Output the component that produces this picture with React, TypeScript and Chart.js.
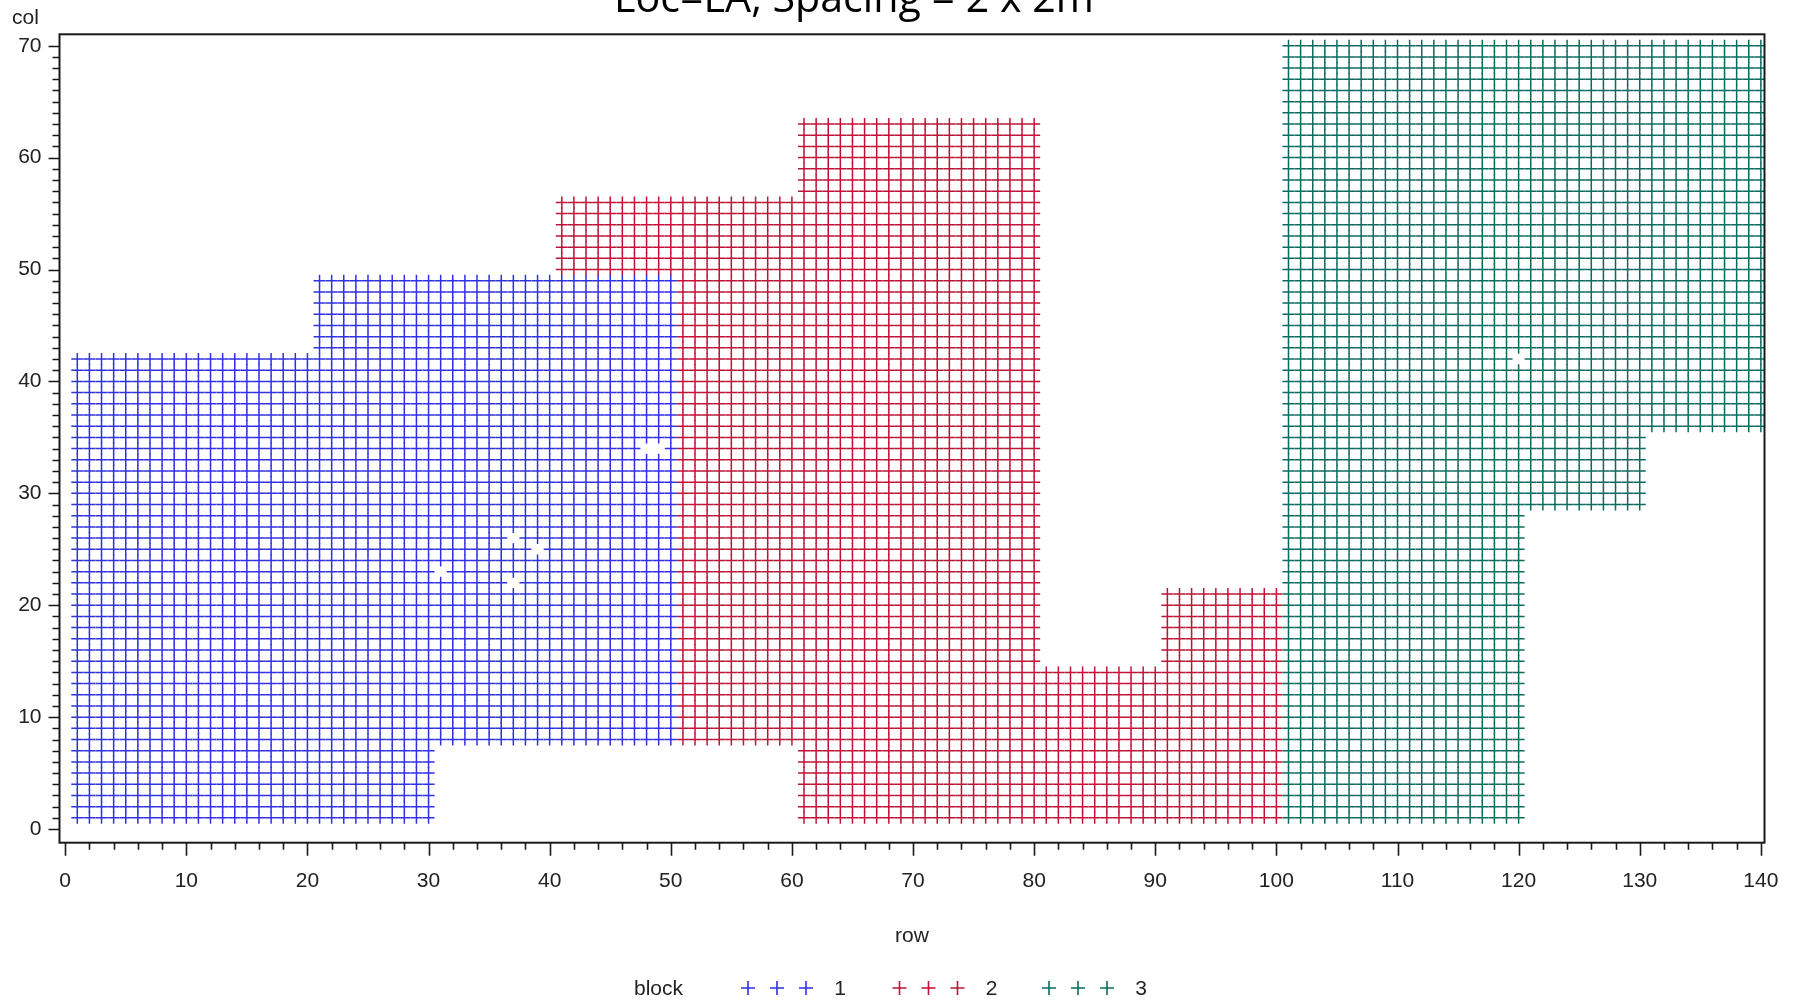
import React, { useEffect, useRef } from 'react';
import { Chart, registerables } from 'chart.js';

Chart.register(...registerables);

// ---------------- data ----------------
const TITLE = 'Loc=LA, Spacing = 2 x 2m';
const X_LABEL = 'row';
const Y_LABEL = 'col';
const LEGEND_TITLE = 'block';

const X_TICKS = [0, 10, 20, 30, 40, 50, 60, 70, 80, 90, 100, 110, 120, 130, 140];
const Y_TICKS = [0, 10, 20, 30, 40, 50, 60, 70];

const BLOCK_NAMES = ['1', '2', '3'];
const BLOCK_COLORS = ['#3030e4', '#c01236', '#0c6b5f'];

// rectangular plot regions of each block: [rowFrom, rowTo, colFrom, colTo]
const BLOCK1_REGIONS = [
  [1, 20, 1, 42],
  [21, 30, 1, 49],
  [31, 50, 8, 49],
];
const BLOCK2_REGIONS = [
  [41, 50, 50, 56],
  [51, 60, 8, 56],
  [61, 80, 1, 63],
  [81, 90, 1, 14],
  [91, 100, 1, 21],
];
const BLOCK3_REGIONS = [
  [101, 120, 1, 70],
  [121, 130, 29, 70],
  [131, 140, 36, 70],
];

// plots with no observation (row, col)
const MISSING_ROWS = [31, 37, 37, 39, 48, 49, 120];
const MISSING_COLS = [23, 22, 26, 25, 34, 34, 42];

// ---------------- helpers ----------------
function isMissing(r: number, c: number) {
  for (let i = 0; i < MISSING_ROWS.length; i++) {
    if (MISSING_ROWS[i] === r && MISSING_COLS[i] === c) return true;
  }
  return false;
}

function expand(regions: number[][]) {
  const pts: { x: number; y: number }[] = [];
  for (const [r0, r1, c0, c1] of regions) {
    for (let r = r0; r <= r1; r++) {
      for (let c = c0; c <= c1; c++) {
        if (!isMissing(r, c)) pts.push({ x: r, y: c });
      }
    }
  }
  return pts;
}

const W = 1793;
const H = 1005;
const AREA_LEFT = 59.5;
const AREA_RIGHT = 1764.5;
const AREA_TOP = 34.3;
const AREA_BOTTOM = 842.7;

const TICK_FONT = '"Liberation Sans", Arial, sans-serif';

const decorPlugin = {
  id: 'decor',
  afterDraw(chart: any) {
    const { ctx, chartArea } = chart;
    const xs = chart.scales.x;
    const ys = chart.scales.y;
    ctx.save();
    // frame
    ctx.strokeStyle = '#1a1a1a';
    ctx.lineWidth = 2;
    ctx.strokeRect(chartArea.left, chartArea.top, chartArea.right - chartArea.left, chartArea.bottom - chartArea.top);

    // tick marks
    ctx.lineWidth = 1.6;
    ctx.beginPath();
    for (let v = 0; v <= 140; v += 2) {
      const px = Math.round(xs.getPixelForValue(v)) + 0.5;
      const len = v % 10 === 0 ? 13 : 7;
      ctx.moveTo(px, chartArea.bottom);
      ctx.lineTo(px, chartArea.bottom + len);
    }
    for (let v = 0; v <= 70; v += 1) {
      const py = Math.round(ys.getPixelForValue(v)) + 0.5;
      const len = v % 10 === 0 ? 11 : 7;
      ctx.moveTo(chartArea.left, py);
      ctx.lineTo(chartArea.left - len, py);
    }
    ctx.stroke();

    // title (clipped at top, as in the original)
    ctx.fillStyle = '#000';
    let size = 40;
    ctx.font = `${size}px "Open Sans", sans-serif`;
    const m = ctx.measureText(TITLE).width;
    size = (size * 480) / m;
    ctx.font = `${size}px "Open Sans", sans-serif`;
    ctx.textAlign = 'center';
    ctx.textBaseline = 'alphabetic';
    ctx.fillText(TITLE, 854, 11.5);

    // axis labels
    ctx.fillStyle = '#222';
    ctx.font = `21px ${TICK_FONT}`;
    ctx.textBaseline = 'middle';
    ctx.textAlign = 'left';
    ctx.fillText(Y_LABEL, 12, 18);
    ctx.textAlign = 'center';
    ctx.fillText(X_LABEL, (chartArea.left + chartArea.right) / 2, 936);

    // legend
    const ly = 988;
    ctx.textAlign = 'left';
    ctx.fillText(LEGEND_TITLE, 634, ly + 1);
    const groupX = [748, 899.5, 1049];
    ctx.lineWidth = 1.6;
    BLOCK_NAMES.forEach((name, i) => {
      const gx = groupX[i];
      ctx.strokeStyle = BLOCK_COLORS[i];
      ctx.beginPath();
      for (let k = 0; k < 3; k++) {
        const cx = gx + k * 29;
        ctx.moveTo(cx - 7, ly);
        ctx.lineTo(cx + 7, ly);
        ctx.moveTo(cx, ly - 7);
        ctx.lineTo(cx, ly + 7);
      }
      ctx.stroke();
      ctx.fillStyle = '#222';
      ctx.textAlign = 'center';
      ctx.fillText(name, gx + 92, ly + 1);
    });
    ctx.restore();
  },
};

export default function App() {
  const ref = useRef<HTMLCanvasElement | null>(null);

  useEffect(() => {
    if (!ref.current) return;
    const regions = [BLOCK1_REGIONS, BLOCK2_REGIONS, BLOCK3_REGIONS];
    const datasets = regions.map((reg, i) => ({
      label: BLOCK_NAMES[i],
      data: expand(reg),
      pointStyle: 'cross',
      pointRadius: 6,
      pointHoverRadius: 6,
      borderColor: BLOCK_COLORS[i],
      backgroundColor: BLOCK_COLORS[i],
      pointBorderWidth: 1.5,
      showLine: false,
      clip: 0,
    }));

    const chart = new Chart(ref.current, {
      type: 'scatter',
      data: { datasets } as any,
      options: {
        animation: false,
        responsive: false,
        devicePixelRatio: 1,
        events: [],
        layout: {
          padding: { left: 0, top: AREA_TOP, right: W - AREA_RIGHT, bottom: 0 },
        },
        plugins: {
          legend: { display: false },
          title: { display: false },
          tooltip: { enabled: false },
        },
        scales: {
          x: {
            type: 'linear',
            min: -0.47,
            max: 140.3,
            grid: { display: false, drawTicks: false },
            border: { display: false },
            ticks: {
              font: { family: TICK_FONT, size: 21 },
              color: '#222',
              padding: 26,
              maxRotation: 0,
              autoSkip: false,
            },
            afterBuildTicks: (s: any) => {
              s.ticks = X_TICKS.map((v) => ({ value: v }));
            },
            afterFit: (s: any) => {
              s.height = H - AREA_BOTTOM;
              s.paddingLeft = 0;
              s.paddingRight = 0;
              s.paddingTop = 0;
              s.paddingBottom = 0;
            },
          },
          y: {
            type: 'linear',
            min: -1.22,
            max: 71.02,
            grid: { display: false, drawTicks: false },
            border: { display: false },
            ticks: {
              font: { family: TICK_FONT, size: 21 },
              color: '#222',
              padding: 18,
              autoSkip: false,
            },
            afterBuildTicks: (s: any) => {
              s.ticks = Y_TICKS.map((v) => ({ value: v }));
            },
            afterFit: (s: any) => {
              s.width = AREA_LEFT;
              s.paddingLeft = 0;
              s.paddingRight = 0;
              s.paddingTop = 0;
              s.paddingBottom = 0;
            },
          },
        },
      } as any,
      plugins: [decorPlugin],
    });
    return () => chart.destroy();
  }, []);

  return (
    <div style={{ position: 'absolute', left: 0, top: 0, width: W, height: H, background: '#fff' }}>
      <canvas ref={ref} width={W} height={H} style={{ width: W, height: H, display: 'block' }} />
    </div>
  );
}
